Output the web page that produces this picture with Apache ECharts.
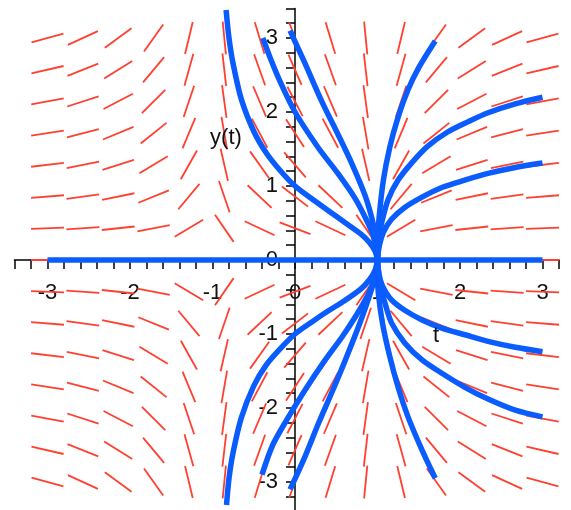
<!DOCTYPE html>
<html lang="en">
<head>
  <meta charset="UTF-8">
  <title>Direction field</title>
  <style>
    html, body { margin: 0; padding: 0; background: #fff; }
  </style>
</head>
<body>
  <div id="main" style="width: 571px;height:510px;"></div>

  <script src="https://cdn.jsdelivr.net/npm/echarts@6/dist/echarts.min.js"></script>
  <script>
    // direction field grid (15 x 15), slopes dy/dt
    const fieldT = [-3, -2.571, -2.143, -1.714, -1.286, -0.857, -0.429, 0, 0.429, 0.857, 1.286, 1.714, 2.143, 2.571, 3];
    const fieldY = [3, 2.571, 2.143, 1.714, 1.286, 0.857, 0.429, 0, -0.429, -0.857, -1.286, -1.714, -2.143, -2.571, -3];
    const fieldSlopes = [
      [0.3, 0.51, 0.81, 1.56, 4.65, -11.4, -3.66, -3, -3.66, -11.4, 4.65, 1.56, 0.81, 0.51, 0.3],
      [0.26, 0.44, 0.69, 1.34, 3.99, -9.77, -3.14, -2.57, -3.14, -9.77, 3.99, 1.34, 0.69, 0.44, 0.26],
      [0.21, 0.36, 0.58, 1.11, 3.32, -8.14, -2.61, -2.14, -2.61, -8.14, 3.32, 1.11, 0.58, 0.36, 0.21],
      [0.17, 0.29, 0.46, 0.89, 2.66, -6.51, -2.09, -1.71, -2.09, -6.51, 2.66, 0.89, 0.46, 0.29, 0.17],
      [0.13, 0.22, 0.35, 0.67, 1.99, -4.89, -1.57, -1.29, -1.57, -4.89, 1.99, 0.67, 0.35, 0.22, 0.13],
      [0.09, 0.15, 0.23, 0.45, 1.33, -3.26, -1.05, -0.86, -1.05, -3.26, 1.33, 0.45, 0.23, 0.15, 0.09],
      [0.04, 0.07, 0.12, 0.22, 0.66, -1.63, -0.52, -0.43, -0.52, -1.63, 0.66, 0.22, 0.12, 0.07, 0.04],
      [0, 0, 0, 0, 0, 0, 0, 0, 0, 0, 0, 0, 0, 0, 0],
      [-0.04, -0.07, -0.12, -0.22, -0.66, 1.63, 0.52, 0.43, 0.52, 1.63, -0.66, -0.22, -0.12, -0.07, -0.04],
      [-0.09, -0.15, -0.23, -0.45, -1.33, 3.26, 1.05, 0.86, 1.05, 3.26, -1.33, -0.45, -0.23, -0.15, -0.09],
      [-0.13, -0.22, -0.35, -0.67, -1.99, 4.89, 1.57, 1.29, 1.57, 4.89, -1.99, -0.67, -0.35, -0.22, -0.13],
      [-0.17, -0.29, -0.46, -0.89, -2.66, 6.51, 2.09, 1.71, 2.09, 6.51, -2.66, -0.89, -0.46, -0.29, -0.17],
      [-0.21, -0.36, -0.58, -1.11, -3.32, 8.14, 2.61, 2.14, 2.61, 8.14, -3.32, -1.11, -0.58, -0.36, -0.21],
      [-0.26, -0.44, -0.69, -1.34, -3.99, 9.77, 3.14, 2.57, 3.14, 9.77, -3.99, -1.34, -0.69, -0.44, -0.26],
      [-0.3, -0.51, -0.81, -1.56, -4.65, 11.4, 3.66, 3, 3.66, 11.4, -4.65, -1.56, -0.81, -0.51, -0.3]
    ];

    // tick labels
    const xTickLabels = [-3, -2, -1, 0, 1, 2, 3];
    const yTickLabels = [-3, -2, -1, 0, 1, 2, 3];

    // solution curves, [t, y]
    const curveZero = [[-3, 0], [3, 0]];
    const curveUp1 = [[-0.835, 3.38], [-0.8, 3.0], [-0.75, 2.65], [-0.65, 2.17], [-0.5, 1.74], [-0.35, 1.45], [-0.18, 1.21], [0, 1.0], [0.2, 0.83], [0.4, 0.67], [0.6, 0.51], [0.8, 0.35], [0.9, 0.24], [0.97, 0.12], [1, 0]];
    const curveUp2 = [[-0.39, 3.0], [-0.3, 2.73], [-0.18, 2.41], [0, 2.0], [0.28, 1.52], [0.52, 1.17], [0.73, 0.83], [0.88, 0.51], [0.95, 0.32], [1, 0]];
    const curveUp3 = [[-0.06, 3.1], [0.12, 2.66], [0.33, 2.13], [0.52, 1.7], [0.69, 1.3], [0.85, 0.87], [0.95, 0.48], [0.99, 0.2], [1, 0]];
    const curveDn1 = [[-0.83, -3.31], [-0.8, -2.95], [-0.75, -2.6], [-0.65, -2.13], [-0.5, -1.7], [-0.35, -1.42], [-0.18, -1.2], [0, -1.0], [0.2, -0.84], [0.4, -0.69], [0.6, -0.55], [0.8, -0.39], [0.9, -0.27], [0.97, -0.14], [1, 0]];
    const curveDn2 = [[-0.4, -2.9], [-0.27, -2.5], [-0.1, -2.16], [0.12, -1.76], [0.36, -1.36], [0.57, -1.04], [0.73, -0.77], [0.88, -0.48], [0.96, -0.26], [1, 0]];
    const curveDn3 = [[-0.06, -3.1], [0.12, -2.66], [0.28, -2.22], [0.45, -1.78], [0.6, -1.38], [0.76, -0.93], [0.88, -0.56], [0.96, -0.27], [1, 0]];
    const curveR1 = [[1, 0], [1.005, 0.3], [1.02, 0.58], [1.07, 1.07], [1.15, 1.53], [1.25, 1.93], [1.37, 2.3], [1.5, 2.6], [1.7, 2.96]];
    const curveR2 = [[1, 0], [1.02, 0.3], [1.05, 0.5], [1.13, 0.82], [1.25, 1.08], [1.42, 1.32], [1.61, 1.54], [1.85, 1.73], [2.1, 1.87], [2.34, 1.99], [2.67, 2.11], [3, 2.2]];
    const curveR3 = [[1, 0], [1.02, 0.18], [1.07, 0.37], [1.17, 0.55], [1.33, 0.71], [1.54, 0.85], [1.78, 0.98], [2.06, 1.08], [2.34, 1.17], [2.67, 1.25], [3, 1.31]];
    const curveR4 = [[1, 0], [1.0, -0.2], [1.01, -0.45], [1.06, -0.85], [1.15, -1.31], [1.25, -1.72], [1.37, -2.12], [1.54, -2.57], [1.7, -2.95]];
    const curveR5 = [[1, 0], [1.03, -0.33], [1.09, -0.58], [1.17, -0.85], [1.33, -1.12], [1.54, -1.35], [1.78, -1.53], [2.06, -1.72], [2.34, -1.88], [2.67, -2.03], [3, -2.12]];
    const curveR6 = [[1, 0], [1.02, -0.2], [1.06, -0.35], [1.17, -0.54], [1.33, -0.68], [1.54, -0.81], [1.78, -0.92], [2.06, -1.01], [2.34, -1.1], [2.67, -1.18], [3, -1.24]];
    const curves = [curveZero, curveUp1, curveUp2, curveUp3, curveDn1, curveDn2, curveDn3, curveR1, curveR2, curveR3, curveR4, curveR5, curveR6];

    const RED = '#ff4030';
    const BLUE = '#0a5cff';
    const FONT = "'Liberation Sans', Arial, sans-serif";
    const HALF = 16.5;
    const X_MIN = -3.4, X_MAX = 3.2, Y_MIN = -3.4, Y_MAX = 3.4;

    const fieldData = [];
    fieldY.forEach((y, i) => {
      fieldT.forEach((t, j) => {
        fieldData.push([t, y, fieldSlopes[i][j]]);
      });
    });

    const axisCommon = {
      type: 'value',
      interval: 0.2,
      splitLine: { show: false },
      axisLine: { show: true, onZero: false, lineStyle: { color: '#000', width: 1.5 } },
      axisTick: { show: true, length: 9, lineStyle: { color: '#000', width: 1.5 } }
    };

    const myChart = echarts.init(document.getElementById('main'));
    const options = {
      animation: false,
      grid: {
        left: 14.5, right: 12, top: 8.4, bottom: -1.6,
        containLabel: false,
        outerBoundsMode: 'none'
      },
      xAxis: Object.assign({}, axisCommon, {
        min: X_MIN,
        max: X_MAX,
        axisLabel: {
          show: true, margin: 22, fontSize: 22, fontFamily: FONT, color: '#111',
          customValues: xTickLabels,
          formatter: (v) => String(Math.round(v))
        }
      }),
      yAxis: Object.assign({}, axisCommon, {
        min: Y_MIN,
        max: Y_MAX,
        axisLabel: {
          show: true, margin: 17, fontSize: 22, fontFamily: FONT, color: '#111',
          customValues: yTickLabels,
          formatter: (v) => String(Math.round(v))
        }
      }),
      graphic: [
        { type: 'text', x: 226, y: 138, z: 10, style: { text: 'y(t)', fontSize: 22, fontFamily: FONT, fill: '#111', textAlign: 'center', textVerticalAlign: 'middle' } },
        { type: 'text', x: 436, y: 336, z: 10, style: { text: 't', fontSize: 22, fontFamily: FONT, fill: '#111', textAlign: 'center', textVerticalAlign: 'middle' } }
      ],
      series: [
        {
          type: 'custom',
          name: 'field',
          silent: true,
          data: fieldData,
          renderItem: function (params, api) {
            const c = api.coord([api.value(0), api.value(1)]);
            const unit = api.size([1, 1]);
            let dx = unit[0];
            let dy = -api.value(2) * unit[1];
            const len = Math.sqrt(dx * dx + dy * dy);
            dx = dx / len * HALF;
            dy = dy / len * HALF;
            return {
              type: 'line',
              shape: { x1: c[0] - dx, y1: c[1] - dy, x2: c[0] + dx, y2: c[1] + dy },
              style: { stroke: RED, lineWidth: 1.8 }
            };
          }
        }
      ].concat(curves.map((pts) => ({
        type: 'line',
        data: pts,
        showSymbol: false,
        smooth: 0.3,
        silent: true,
        lineStyle: { color: BLUE, width: 5.5 }
      })))
    };

    myChart.setOption(options);

    // move both axes (line, ticks, labels) through the origin
    const origin = myChart.convertToPixel({ gridIndex: 0 }, [0, 0]);
    const corner = myChart.convertToPixel({ gridIndex: 0 }, [X_MIN, Y_MIN]);
    myChart.setOption({
      xAxis: { offset: origin[1] - corner[1] },
      yAxis: { offset: corner[0] - origin[0] }
    });
  </script>
</body>
</html>
